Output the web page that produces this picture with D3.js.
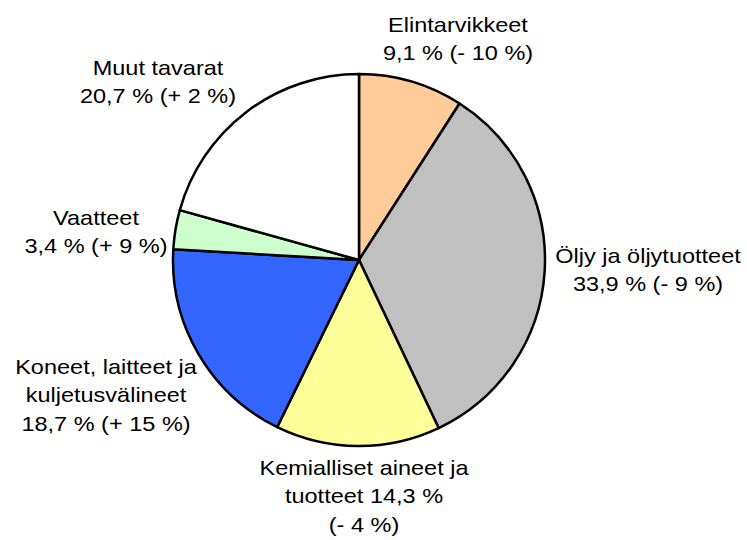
<!DOCTYPE html>
<html>
<head>
<meta charset="utf-8">
<script src="https://cdn.jsdelivr.net/npm/d3@7"></script>
<style>
  body { margin: 0; background: #fff; }
  text { font-family: "Liberation Sans", Arial, sans-serif; font-size: 21px; fill: #000; }
</style>
</head>
<body>
<div id="chart"></div>
<script>
// categories, share of imports (%), change from previous year (%)
var categories = ["Elintarvikkeet", "Öljy ja öljytuotteet", "Kemialliset aineet ja tuotteet",
                  "Koneet, laitteet ja kuljetusvälineet", "Vaatteet", "Muut tavarat"];
var shares = [9.1, 33.9, 14.3, 18.7, 3.4, 20.7];
var changes = ["- 10", "- 9", "- 4", "+ 15", "+ 9", "+ 2"];
var colors = ["#FFCC99", "#C0C0C0", "#FFFF99", "#3366FF", "#CCFFCC", "#FFFFFF"];

var width = 747, height = 540;
var cx = 359, cy = 260, radius = 186;

var svg = d3.select("#chart")
  .append("svg")
    .attr("width", width)
    .attr("height", height);

var data = categories.map(function(c, i) {
  return {name: c, value: shares[i], change: changes[i], color: colors[i]};
});

var pie = d3.pie()
  .sort(null)
  .value(function(d) { return d.value; });

var arc = d3.arc()
  .innerRadius(0)
  .outerRadius(radius);

var g = svg.append("g")
  .attr("transform", "translate(" + cx + "," + cy + ")");

g.selectAll("path")
  .data(pie(data))
  .enter()
  .append("path")
    .attr("d", arc)
    .attr("fill", function(d) { return d.data.color; })
    .attr("stroke", "#000")
    .attr("stroke-width", 2.5)
    .attr("stroke-linejoin", "round");

// label text, comma as decimal separator
function pct(v) { return d3.format(".1f")(v).replace(".", ",") + " %"; }

function lines(d, i) {
  var s = pct(d.value), c = "(" + d.change + " %)";
  switch (i) {
    case 2: return ["Kemialliset aineet ja", "tuotteet " + s, c];
    case 3: return ["Koneet, laitteet ja", "kuljetusvälineet", s + " " + c];
    default: return [d.name, s + " " + c];
  }
}

// hand placed label anchors (centre x, first baseline)
var labelPos = [[458, 32], [648, 263], [364, 475], [106, 374], [96, 225], [158, 75]];
var lineHeight = 28.5;

var labels = svg.selectAll("g.label")
  .data(data)
  .enter()
  .append("g")
    .attr("class", "label")
    .attr("transform", function(d, i) {
      return "translate(" + labelPos[i][0] + "," + labelPos[i][1] + ") scale(1.12,1)";
    });

labels.each(function(d, i) {
  var t = d3.select(this).append("text").attr("text-anchor", "middle");
  lines(d, i).forEach(function(l, j) {
    t.append("tspan").attr("x", 0).attr("y", j * lineHeight).text(l);
  });
});
</script>
</body>
</html>
